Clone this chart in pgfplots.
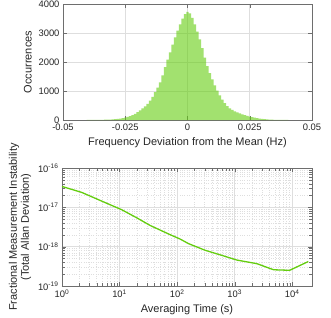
\documentclass[border=0pt]{standalone}
\usepackage{fontspec}
\setmainfont{Liberation Sans}
\usepackage{pgfplots}
\usepackage{pgfplotstable}
\pgfplotsset{compat=1.18}
\definecolor{mgreen}{RGB}{100,205,15}
\definecolor{gridgray}{RGB}{222,222,222}
\definecolor{axgray}{RGB}{110,110,110}

% histogram: left bin edges (Hz) and counts; last row = closing edge
\pgfplotstableread{
x c
-0.0405 1
-0.0395 1
-0.0385 2
-0.0375 3
-0.0365 4
-0.0355 6
-0.0345 8
-0.0335 10
-0.0325 13
-0.0315 17
-0.0305 22
-0.0295 29
-0.0285 38
-0.0275 50
-0.0265 66
-0.0255 85
-0.0245 108
-0.0235 138
-0.0225 172
-0.0215 215
-0.0205 270
-0.0195 335
-0.0185 400
-0.0175 470
-0.0165 560
-0.0155 670
-0.0145 800
-0.0135 960
-0.0125 1120
-0.0115 1300
-0.0105 1540
-0.0095 1820
-0.0085 2080
-0.0075 2330
-0.0065 2600
-0.0055 2850
-0.0045 3080
-0.0035 3300
-0.0025 3500
-0.0015 3650
-0.0005 3730
0.0005 3680
0.0015 3520
0.0025 3300
0.0035 3050
0.0045 2780
0.0055 2480
0.0065 2150
0.0075 1860
0.0085 1620
0.0095 1400
0.0105 1190
0.0115 1010
0.0125 850
0.0135 700
0.0145 585
0.0155 480
0.0165 405
0.0175 350
0.0185 300
0.0195 260
0.0205 225
0.0215 195
0.0225 165
0.0235 140
0.0245 120
0.0255 100
0.0265 80
0.0275 62
0.0285 48
0.0295 36
0.0305 27
0.0315 20
0.0325 14
0.0335 10
0.0345 7
0.0355 5
0.0365 3
0.0375 2
0.0385 1
0.0395 1
0.0405 1
}\histdata

\pgfplotstableread{
t s
1 3.4e-17
2.2 2.4e-17
4.6 1.5e-17
10.9 8.7e-18
20 5.4e-18
34 3.46e-18
75 2.03e-18
113 1.56e-18
157 1.2e-18
307 8.1e-19
560 6.2e-19
1090 4.57e-19
2430 3.7e-19
4730 2.59e-19
9000 2.51e-19
19000 4.2e-19
}\adevdata

\begin{document}
\begin{tikzpicture}
\path[use as bounding box] (-63pt,-197pt) rectangle (268pt,120pt);
\pgfplotsset{
  mystyle/.style={
    scale only axis,
    tick align=inside,
    axis line style={axgray},
    tick style={axgray},
    major grid style={gridgray, line width=0.5pt},
    ticklabel style={font=\fontsize{9.4}{10}\selectfont, text=black!85},
    label style={font=\fontsize{11}{12}\selectfont, text=black!85},
  }
}
\begin{axis}[mystyle,
  at={(0pt,0pt)}, anchor=south west,
  width=249pt, height=116pt,
  xmin=-0.05, xmax=0.05, ymin=0, ymax=4000,
  scaled x ticks=false, scaled y ticks=false,
  xtick={-0.05,-0.025,0,0.025,0.05},
  xticklabels={-0.05,-0.025,0,0.025,0.05},
  ytick={0,1000,2000,3000,4000},
  yticklabels={0,1000,2000,3000,4000},
  grid=major,
  xlabel={Frequency Deviation from the Mean (Hz)},
  ylabel={Occurrences},
]
\addplot[ybar interval, fill=mgreen, fill opacity=0.6, draw=none] table[x=x,y=c] {\histdata};
\end{axis}

\begin{axis}[mystyle,
  at={(-1pt,-166pt)}, anchor=south west,
  width=250pt, height=118pt,
  xmode=log, ymode=log,
  xmin=1, xmax=2.2e4, ymin=1e-19, ymax=1e-16,
  xtick={1,10,100,1000,10000},
  xticklabels={10\textsuperscript{0},10\textsuperscript{1},10\textsuperscript{2},10\textsuperscript{3},10\textsuperscript{4}},
  ytick={1e-19,1e-18,1e-17,1e-16},
  yticklabels={10\textsuperscript{-19},10\textsuperscript{-18},10\textsuperscript{-17},10\textsuperscript{-16}},
  grid=both,
  minor grid style={gridgray, dotted, line width=0.5pt},
  xlabel={Averaging Time (s)},
  ylabel={Fractional Measurement Instability\\(Total Allan Deviation)},
  ylabel style={align=center},
]
\addplot[mgreen, line width=1.3pt] table[x=t,y=s] {\adevdata};
\end{axis}
\end{tikzpicture}
\end{document}
